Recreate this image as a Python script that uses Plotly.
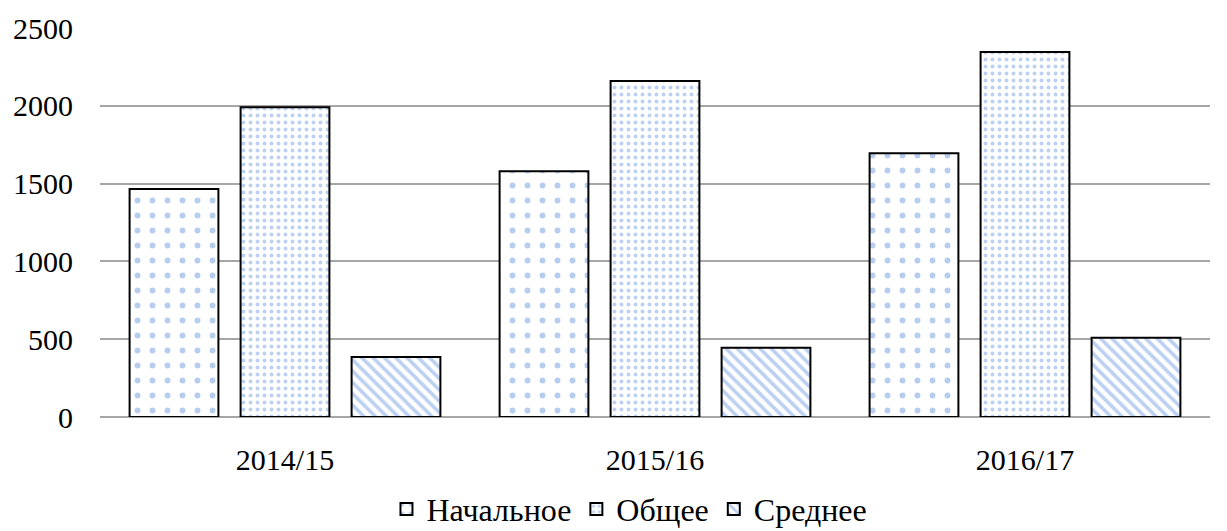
import plotly.graph_objects as go

years = ["2014/15", "2015/16", "2016/17"]
nachalnoe = [1465, 1580, 1695]
obshchee = [1990, 2160, 2345]
srednee = [385, 445, 510]

series_names = ["Начальное", "Общее", "Среднее"]
patterns = [
    dict(shape=".", size=15, solidity=0.12, fgcolor="#6f9be0", bgcolor="white", fillmode="overlay"),
    dict(shape=".", size=7, solidity=0.25, fgcolor="#7aa3e3", bgcolor="white", fillmode="overlay"),
    dict(shape="\\", size=8, solidity=0.45, fgcolor="#7aa3e3", bgcolor="white", fillmode="overlay"),
]

fig = go.Figure()
for name, vals, pat in zip(series_names, [nachalnoe, obshchee, srednee], patterns):
    fig.add_trace(go.Bar(
        x=years, y=vals, name=name,
        marker=dict(color="white", pattern=pat, line=dict(color="black", width=2)),
    ))

font = "Liberation Serif, Times New Roman, serif"
fig.update_layout(
    width=1219, height=523,
    margin=dict(l=92, r=17, t=20, b=114, autoexpand=False),
    paper_bgcolor="white", plot_bgcolor="white",
    barmode="group", bargap=0.1, bargroupgap=0.2,
    font=dict(family=font, size=30, color="black"),
    showlegend=True,
    legend=dict(orientation="h", x=0.477, xanchor="center", y=-0.237, yanchor="middle",
                font=dict(family=font, size=32), itemwidth=30),
    xaxis=dict(showgrid=False, ticks="", showline=False, tickfont=dict(size=30),
               ticklabelstandoff=22, automargin=False),
    yaxis=dict(range=[0, 2500], dtick=500, showgrid=True, gridcolor="#a6a6a6", gridwidth=2,
               zeroline=True, zerolinecolor="#a6a6a6", zerolinewidth=2,
               ticks="", showline=False, tickfont=dict(size=30), ticklabelstandoff=26,
               automargin=False),
)

fig.write_html("out.html")
